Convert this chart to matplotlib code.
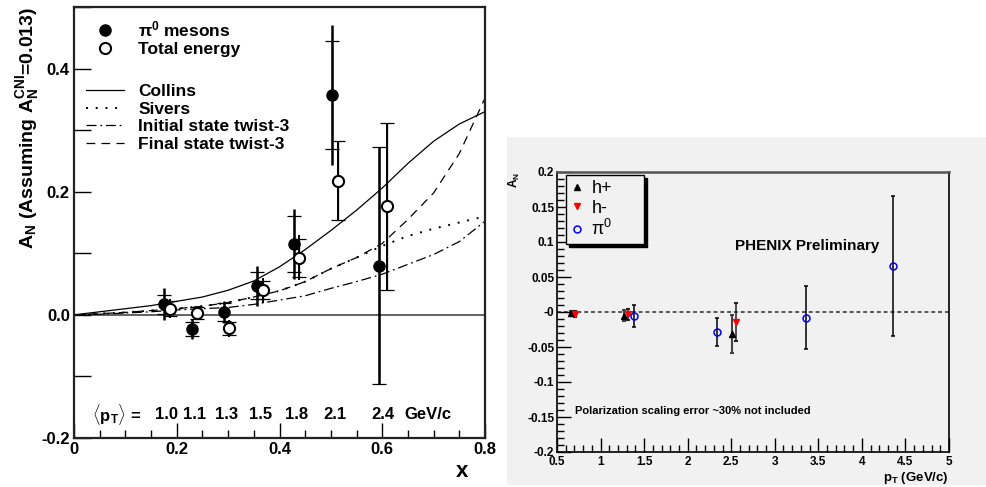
import matplotlib
matplotlib.use("Agg")
import matplotlib.pyplot as plt
from matplotlib.ticker import FixedLocator, FixedFormatter, MultipleLocator
from matplotlib.patches import Rectangle

plt.rcParams['font.family'] = ['Liberation Sans', 'DejaVu Sans']
plt.rcParams['mathtext.fontset'] = 'custom'
plt.rcParams['mathtext.rm'] = 'Liberation Sans'
plt.rcParams['mathtext.bf'] = 'Liberation Sans:bold'
plt.rcParams['mathtext.it'] = 'Liberation Sans:bold'
plt.rcParams['mathtext.default'] = 'bf'

# ---------------- Left panel data ----------------
pi0_x = [0.175, 0.229, 0.292, 0.357, 0.429, 0.502, 0.594]
pi0_y = [0.017, -0.023, 0.005, 0.047, 0.115, 0.357, 0.080]
pi0_err_stat = [0.015, 0.012, 0.015, 0.022, 0.046, 0.087, 0.193]
pi0_err_tot = [0.026, 0.016, 0.018, 0.032, 0.057, 0.113, 0.193]

tot_x = [0.186, 0.239, 0.302, 0.368, 0.438, 0.514, 0.609]
tot_y = [0.010, 0.003, -0.022, 0.040, 0.093, 0.218, 0.176]
tot_err_stat = [0.012, 0.010, 0.010, 0.015, 0.031, 0.064, 0.136]
tot_err_tot = [0.015, 0.012, 0.014, 0.020, 0.036, 0.064, 0.136]

pt_labels = ["1.0", "1.1", "1.3", "1.5", "1.8", "2.1", "2.4"]

curve_x = [0.0, 0.05, 0.1, 0.15, 0.2, 0.25, 0.3, 0.35, 0.4, 0.45, 0.5,
           0.55, 0.6, 0.65, 0.7, 0.75, 0.8]
collins = [0.0, 0.005, 0.010, 0.015, 0.022, 0.029, 0.040, 0.055, 0.078,
           0.106, 0.137, 0.170, 0.206, 0.246, 0.282, 0.310, 0.330]
sivers = [0.0, 0.002, 0.004, 0.007, 0.010, 0.014, 0.020, 0.029, 0.039,
          0.054, 0.075, 0.093, 0.112, 0.128, 0.140, 0.150, 0.160]
initial_tw3 = [0.0, 0.001, 0.003, 0.005, 0.008, 0.010, 0.012, 0.017, 0.024,
               0.031, 0.043, 0.054, 0.066, 0.082, 0.098, 0.119, 0.152]
final_tw3 = [0.0, 0.002, 0.004, 0.007, 0.010, 0.014, 0.020, 0.029, 0.039,
             0.054, 0.075, 0.093, 0.116, 0.155, 0.198, 0.262, 0.352]

left_xticks = [0.0, 0.2, 0.4, 0.6, 0.8]
left_xticklabels = ["0", "0.2", "0.4", "0.6", "0.8"]
left_yticks = [-0.2, 0.0, 0.2, 0.4]
left_yticklabels = ["-0.2", "0.0", "0.2", "0.4"]

# ---------------- Right panel data ----------------
hp_x = [0.66, 1.27, 2.51]
hp_y = [-0.001, -0.005, -0.031]
hp_err = [0.002, 0.0085, 0.027]

hm_x = [0.71, 1.32, 2.56]
hm_y = [-0.003, -0.003, -0.014]
hm_err = [0.004, 0.008, 0.027]

pi0r_x = [1.38, 2.34, 3.36, 4.36]
pi0r_y = [-0.006, -0.028, -0.008, 0.066]
pi0r_err = [0.0155, 0.020, 0.045, 0.100]

right_xticks = [0.5, 1, 1.5, 2, 2.5, 3, 3.5, 4, 4.5, 5]
right_xticklabels = ["0.5", "1", "1.5", "2", "2.5", "3", "3.5", "4", "4.5", "5"]
right_yticks = [-0.2, -0.15, -0.1, -0.05, 0.0, 0.05, 0.1, 0.15, 0.2]
right_yticklabels = ["-0.2", "-0.15", "-0.1", "-0.05", "-0", "0.05", "0.1", "0.15", "0.2"]

fig = plt.figure(figsize=(9.86, 4.87), dpi=100)
W, H = 986.0, 487.0

# gray background of the right panel
gray = '#f1f1f1'
bg = Rectangle((507 / W, 1 - 485 / H), (986 - 507) / W, (485 - 137) / H,
               transform=fig.transFigure, facecolor=gray, edgecolor='none',
               zorder=-10)
fig.add_artist(bg)

# ================= LEFT PANEL =================
ax = fig.add_axes([74 / W, 1 - 438 / H, 411 / W, 431 / H])
ax.set_xlim(0, 0.8)
ax.set_ylim(-0.2, 0.5)
ax.axhline(0, color='#555555', lw=1.3, zorder=1)

l_col, = ax.plot(curve_x, collins, color='black', lw=0.9, ls='-', label='Collins')
l_siv, = ax.plot(curve_x, sivers, color='black', lw=1.4, ls=(0, (1, 4)), label='Sivers')
l_ini, = ax.plot(curve_x, initial_tw3, color='black', lw=0.9,
                 ls=(0, (8, 3, 1.5, 3)), label='Initial state twist-3')
l_fin, = ax.plot(curve_x, final_tw3, color='black', lw=0.9, ls=(0, (7, 5)),
                 label='Final state twist-3')

ax.errorbar(pi0_x, pi0_y, yerr=pi0_err_tot, fmt='none', ecolor='black',
            elinewidth=1.8, capsize=0, zorder=3)
ax.errorbar(pi0_x, pi0_y, yerr=pi0_err_stat, fmt='none', ecolor='black',
            elinewidth=0.9, capsize=5, capthick=0.9, zorder=3)
ax.errorbar(tot_x, tot_y, yerr=tot_err_tot, fmt='none', ecolor='black',
            elinewidth=1.4, capsize=0, zorder=3)
ax.errorbar(tot_x, tot_y, yerr=tot_err_stat, fmt='none', ecolor='black',
            elinewidth=0.9, capsize=5, capthick=0.9, zorder=3)
m_pi0, = ax.plot(pi0_x, pi0_y, 'o', color='black', ms=8, ls='none',
                 zorder=4, label=r'$\pi^0$ mesons')
m_tot, = ax.plot(tot_x, tot_y, 'o', mfc='white', mec='black', mew=1.5, ms=8,
                 ls='none', zorder=4, label='Total energy')

leg1 = ax.legend(handles=[m_pi0, m_tot], loc='upper left',
                 bbox_to_anchor=(0.0, 1.0), frameon=False,
                 prop={'weight': 'bold', 'size': 12.5}, handlelength=2.2,
                 handletextpad=0.8, labelspacing=0.15, borderaxespad=0.3)
ax.add_artist(leg1)
ax.legend(handles=[l_col, l_siv, l_ini, l_fin], loc='upper left',
          bbox_to_anchor=(0.0, 0.85), frameon=False,
          prop={'weight': 'bold', 'size': 12.5}, handlelength=2.2,
          handletextpad=0.8, labelspacing=0.15, borderaxespad=0.3)

ax.xaxis.set_major_locator(FixedLocator(left_xticks))
ax.xaxis.set_major_formatter(FixedFormatter(left_xticklabels))
ax.xaxis.set_minor_locator(MultipleLocator(0.05))
ax.yaxis.set_major_locator(FixedLocator(left_yticks))
ax.yaxis.set_major_formatter(FixedFormatter(left_yticklabels))
ax.yaxis.set_minor_locator(MultipleLocator(0.1))
ax.tick_params(axis='both', which='both', direction='in', top=False, right=False,
               labelsize=12, width=1.0)
ax.tick_params(axis='x', which='major', length=11, pad=3)
ax.tick_params(axis='x', which='minor', length=6)
ax.tick_params(axis='y', which='major', length=12, pad=3)
ax.tick_params(axis='y', which='minor', length=12)
for lab in ax.get_xticklabels() + ax.get_yticklabels():
    lab.set_fontweight('bold')
for sp in ax.spines.values():
    sp.set_linewidth(1.6)
    sp.set_color('#222222')

ax.set_ylabel(r'$A_N$ (Assuming $A_N^{CNI}$=0.013)', fontsize=14,
              fontweight='bold', loc='top', labelpad=0)
ax.set_xlabel('x', fontsize=16, fontweight='bold', loc='right', labelpad=3)
ax.xaxis.label.set_x(0.96)

pt_y = -0.162
ax.text(0.035, pt_y, r'$\langle p_T \rangle$ =', fontsize=12, fontweight='bold',
        ha='left', va='center')
for px, py_, lab in zip(pi0_x, tot_x, pt_labels):
    ax.text((px + py_) / 2, pt_y, lab, fontsize=12, fontweight='bold',
            ha='center', va='center')
ax.text(0.689, pt_y, 'GeV/c', fontsize=12, fontweight='bold', ha='center', va='center')

# ================= RIGHT PANEL =================
ax2 = fig.add_axes([557 / W, 1 - 452 / H, 392 / W, 280 / H])
ax2.set_facecolor(gray)
ax2.set_xlim(0.5, 5)
ax2.set_ylim(-0.2, 0.2)
ax2.axhline(0, color='#555555', lw=1.4, ls=(0, (2, 1.5)), zorder=1)

h_p = ax2.errorbar(hp_x, hp_y, yerr=hp_err, fmt='^', color='black', ms=4.5,
                   ecolor='#444444', elinewidth=1.5, capsize=1.5, capthick=1.5,
                   label='h+', zorder=3)
h_m = ax2.errorbar(hm_x, hm_y, yerr=hm_err, fmt='v', color='red', ms=4.5,
                   ecolor='#222222', elinewidth=1.1, capsize=1.5, capthick=1.5,
                   label='h-', zorder=3)
h_pi = ax2.errorbar(pi0r_x, pi0r_y, yerr=pi0r_err, fmt='o', mfc='none', mec='blue',
                    mew=1.1, ms=5, ecolor='black', elinewidth=1.1, capsize=1.5,
                    capthick=1.5, label=r'$\mathrm{\pi^0}$', zorder=3)

leg = ax2.legend(handles=[h_p[0], h_m[0], h_pi[0]], labels=['h+', 'h-', r'$\mathrm{\pi^0}$'],
                 loc='upper left', bbox_to_anchor=(0.023, 0.75, 0.199, 0.239),
                 mode='expand',
                 fancybox=False, framealpha=1, facecolor=gray, edgecolor='black',
                 shadow={'facecolor': 'black', 'edgecolor': 'black', 'alpha': 1},
                 prop={'size': 13}, handlelength=0.6, handletextpad=0.5,
                 labelspacing=0.12, borderpad=0.3, borderaxespad=0.0)
leg.get_frame().set_linewidth(1.0)
leg.set_zorder(5)

ax2.xaxis.set_major_locator(FixedLocator(right_xticks))
ax2.xaxis.set_major_formatter(FixedFormatter(right_xticklabels))
ax2.xaxis.set_minor_locator(MultipleLocator(0.1))
ax2.yaxis.set_major_locator(FixedLocator(right_yticks))
ax2.yaxis.set_major_formatter(FixedFormatter(right_yticklabels))
ax2.yaxis.set_minor_locator(MultipleLocator(0.01))
ax2.tick_params(axis='both', which='both', direction='in', top=False, right=False,
                labelsize=8.5, width=1.0)
ax2.tick_params(axis='both', which='major', length=10, pad=2)
ax2.tick_params(axis='x', which='major', pad=3)
ax2.tick_params(axis='both', which='minor', length=5)
for lab in ax2.get_xticklabels() + ax2.get_yticklabels():
    lab.set_fontweight('bold')
for name, sp in ax2.spines.items():
    sp.set_linewidth(1.2)
    sp.set_color('black')
ax2.spines['top'].set_color('#555555')
ax2.spines['top'].set_linewidth(1.8)

ax2.set_ylabel(r'$A_N$', fontsize=8.5, fontweight='bold', loc='top', labelpad=4)
ax2.set_xlabel(r'$p_T$ (GeV/c)', fontsize=9.5, fontweight='bold', loc='right', labelpad=1)

ax2.text(0.455, 0.735, 'PHENIX Preliminary', transform=ax2.transAxes,
         fontsize=11, fontweight='bold', ha='left', va='center')
ax2.text(0.045, 0.145, 'Polarization scaling error ~30% not included',
         transform=ax2.transAxes, fontsize=8, fontweight='bold',
         ha='left', va='center')

fig.savefig('out.png', dpi=100)
